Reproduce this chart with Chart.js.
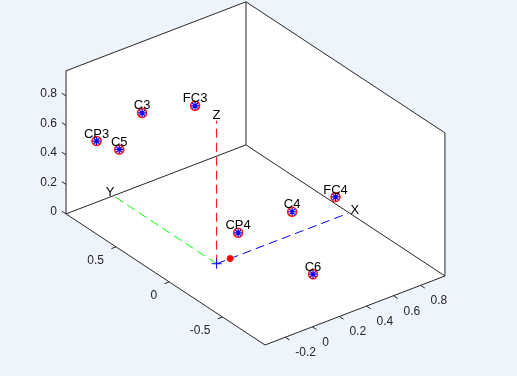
<!DOCTYPE html>
<html>
<head>
<meta charset="utf-8">
<script src="https://cdn.jsdelivr.net/npm/chart.js"></script>
<style>
  html, body { margin: 0; padding: 0; background: #edf4fc; }
  #wrap { width: 517px; height: 376px; }
</style>
</head>
<body>
<div id="wrap"><canvas id="myChart" width="517" height="376"></canvas></div>
<script>
// electrode positions (x = front, y = left, z = up)
let electrodes = ["C3", "FC3", "CP3", "C5", "C4", "FC4", "CP4", "C6"];
let elecX = [0, 0.36, -0.36, 0, 0, 0.36, -0.36, 0];
let elecY = [0.70, 0.66, 0.67, 0.915, -0.71, -0.66, -0.66, -0.906];
let elecZ = [0.69, 0.63, 0.64, 0.34, 0.69, 0.64, 0.65, 0.36];

// reference marks: origin cross and the small red dot on the x axis
let originPt = [0, 0, 0];
let nosePt = [0.1, 0, 0];
let axisNames = ["X", "Y", "Z"];
let axisEnds = [[1, 0, 0], [0, 1, 0], [0, 0, 1]];

let xTicks = [-0.2, 0, 0.2, 0.4, 0.6, 0.8];
let yTicks = [-0.5, 0, 0.5];
let zTicks = [0, 0.2, 0.4, 0.6, 0.8];
let xLim = [-0.35, 0.98];
let yLim = [-0.9, 0.97];
let zLim = [0, 0.97];

// orthographic view: screen position of the
// (xmin, ymin, zmin) corner and the screen step for one unit on each axis
const corner = [265, 345];
const ux = [135.3, -51.9];
const uy = [-106.4, -70.1];
const uz = [0, -147.5];

function project(x, y, z) {
  let dx = x - xLim[0], dy = y - yLim[0], dz = z - zLim[0];
  return {
    x: corner[0] + dx * ux[0] + dy * uy[0] + dz * uz[0],
    y: corner[1] + dx * ux[1] + dy * uy[1] + dz * uz[1],
  };
}

let elecPoints = [];
for (let i = 0; i < electrodes.length; i++) {
  elecPoints.push(project(elecX[i], elecY[i], elecZ[i]));
}

const axisColors = ["#0000ff", "#00ff00", "#ff0000"];
let axisDatasets = [];
for (let i = 0; i < 3; i++) {
  let e = axisEnds[i];
  axisDatasets.push({
    data: [project(0, 0, 0), project(e[0] * 0.97, e[1] * 0.97, e[2] * 0.97)],
    showLine: true,
    borderColor: axisColors[i],
    borderWidth: 1,
    borderDash: [9, 5],
    pointRadius: 0,
    order: 5,
  });
}

const FONT = '"Liberation Sans", Arial, Helvetica, sans-serif';
const INK = "#262626";

function px(chart, p) {
  return {
    x: chart.scales.x.getPixelForValue(p.x),
    y: chart.scales.y.getPixelForValue(p.y),
  };
}

const boxPlugin = {
  id: "box3d",
  beforeDatasetsDraw(chart) {
    const ctx = chart.ctx;
    let [x0, x1] = xLim, [y0, y1] = yLim, [z0, z1] = zLim;
    // white face outline of the axes box
    let hull = [
      [x0, y1, z0], [x0, y1, z1], [x1, y1, z1],
      [x1, y0, z1], [x1, y0, z0], [x0, y0, z0],
    ].map((c) => px(chart, project(c[0], c[1], c[2])));
    ctx.save();
    ctx.fillStyle = "#ffffff";
    ctx.beginPath();
    hull.forEach((p, i) => (i ? ctx.lineTo(p.x, p.y) : ctx.moveTo(p.x, p.y)));
    ctx.closePath();
    ctx.fill();

    let edges = [
      [[x0, y1, z1], [x1, y1, z1]],
      [[x1, y1, z1], [x1, y0, z1]],
      [[x1, y1, z0], [x1, y1, z1]],
      [[x0, y1, z0], [x1, y1, z0]],
      [[x1, y1, z0], [x1, y0, z0]],
      [[x0, y1, z0], [x0, y1, z1]],
      [[x1, y0, z0], [x1, y0, z1]],
      [[x0, y1, z0], [x0, y0, z0]],
      [[x0, y0, z0], [x1, y0, z0]],
    ];
    ctx.strokeStyle = INK;
    ctx.lineWidth = 1;
    ctx.beginPath();
    for (let e of edges) {
      let a = px(chart, project(...e[0]));
      let b = px(chart, project(...e[1]));
      ctx.moveTo(a.x, a.y);
      ctx.lineTo(b.x, b.y);
    }

    // tick marks, 5px long, pointing out of the box
    function tick(p, dir) {
      let len = Math.hypot(dir[0], dir[1]);
      ctx.moveTo(p.x, p.y);
      ctx.lineTo(p.x + (dir[0] / len) * 5, p.y + (dir[1] / len) * 5);
    }
    let xt = xTicks.map((v) => px(chart, project(v, y0, z0)));
    let yt = yTicks.map((v) => px(chart, project(x0, v, z0)));
    let zt = zTicks.map((v) => px(chart, project(x0, y1, v)));
    xt.forEach((p) => tick(p, [-uy[0], -uy[1]]));
    yt.forEach((p) => tick(p, [-ux[0], -ux[1]]));
    zt.forEach((p) => tick(p, [uy[0], uy[1]]));
    ctx.stroke();

    ctx.fillStyle = INK;
    ctx.font = "12px " + FONT;
    ctx.textBaseline = "middle";
    ctx.textAlign = "left";
    xt.forEach((p, i) => ctx.fillText(String(xTicks[i]), p.x + 10, p.y + 15.5));
    ctx.textAlign = "right";
    yt.forEach((p, i) => ctx.fillText(String(yTicks[i]), p.x - 12, p.y + 14));
    zt.forEach((p, i) => ctx.fillText(String(zTicks[i]), p.x - 9, p.y - 2));
    ctx.restore();
  },
  afterDatasetsDraw(chart) {
    const ctx = chart.ctx;
    ctx.save();
    ctx.fillStyle = "#000000";
    ctx.font = "13px " + FONT;
    ctx.textAlign = "center";
    ctx.textBaseline = "middle";
    for (let i = 0; i < 3; i++) {
      let p = px(chart, project(...axisEnds[i]));
      ctx.fillText(axisNames[i], p.x + (i === 0 ? 3 : 0), p.y - 1);
    }
    for (let i = 0; i < electrodes.length; i++) {
      let p = px(chart, elecPoints[i]);
      ctx.fillText(electrodes[i], p.x, p.y - 7);
    }
    ctx.restore();
  },
};

const ctx = document.getElementById("myChart").getContext("2d");
const myChart = new Chart(ctx, {
  type: "scatter",
  data: {
    datasets: [
      ...axisDatasets,
      {
        data: [project(...nosePt)],
        pointStyle: "circle",
        pointRadius: 3,
        backgroundColor: "#ff0000",
        borderColor: "#ff0000",
        order: 4,
      },
      {
        data: [project(...originPt)],
        pointStyle: "cross",
        pointRadius: 5,
        borderColor: "#0000ff",
        borderWidth: 1,
        order: 3,
      },
      {
        data: elecPoints,
        pointStyle: "circle",
        pointRadius: 4.5,
        backgroundColor: "#ffe8e8",
        borderColor: "#ff1a1a",
        borderWidth: 1.6,
        order: 2,
      },
      {
        data: elecPoints,
        pointStyle: "star",
        pointRadius: 4,
        borderColor: "#0000ff",
        borderWidth: 1.2,
        order: 1,
      },
    ],
  },
  options: {
    responsive: false,
    animation: false,
    events: [],
    layout: { padding: 0, autoPadding: false },
    plugins: { legend: { display: false }, tooltip: { enabled: false } },
    scales: {
      x: { type: "linear", min: 0, max: 517, display: false },
      y: { type: "linear", min: 0, max: 376, reverse: true, display: false },
    },
  },
  plugins: [boxPlugin],
});
</script>
</body>
</html>
